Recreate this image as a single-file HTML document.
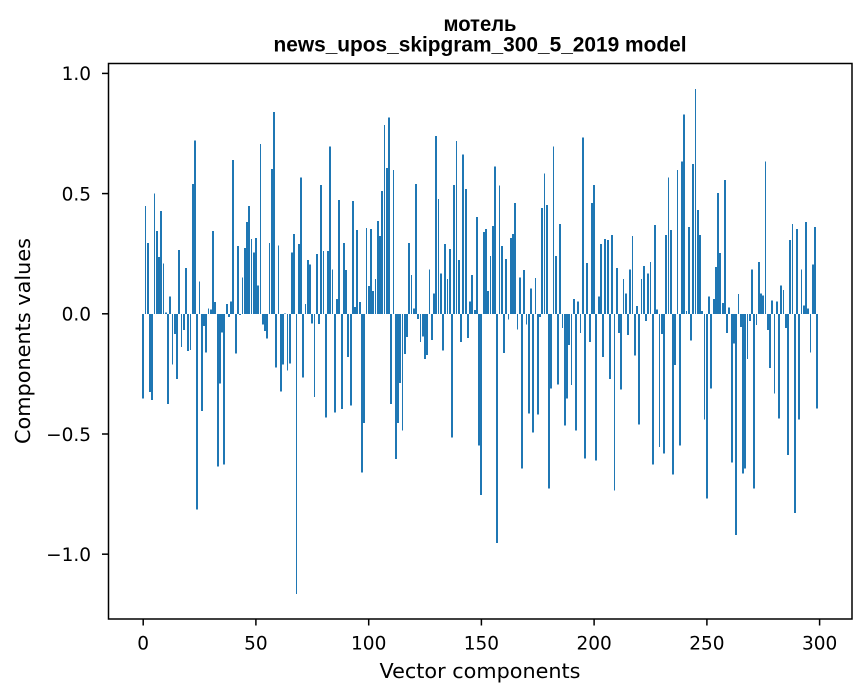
<!DOCTYPE html>
<html><head><meta charset="utf-8"><style>
html,body{margin:0;padding:0;background:#fff;}
svg{display:block;}
.t{font-family:"DejaVu Sans","Liberation Sans",sans-serif;font-size:18.5px;fill:#000;}
.l{font-family:"DejaVu Sans","Liberation Sans",sans-serif;font-size:20.6px;fill:#000;}
.h{font-family:"Liberation Sans","DejaVu Sans",sans-serif;font-size:21px;font-weight:bold;fill:#000;}
</style></head><body>
<svg width="867" height="696" viewBox="0 0 867 696" xmlns="http://www.w3.org/2000/svg">
<rect x="0" y="0" width="867" height="696" fill="#fff"/>
<g transform="translate(0,313.8) scale(1,-240.4)" fill="#1f77b4" shape-rendering="crispEdges">
<rect x="142" y="-0.352" width="2" height="0.352"/>
<rect x="145" y="0" width="1" height="0.449"/>
<rect x="147" y="0" width="2" height="0.294"/>
<rect x="149" y="-0.326" width="2" height="0.326"/>
<rect x="151" y="-0.358" width="2" height="0.358"/>
<rect x="154" y="0" width="1" height="0.5"/>
<rect x="156" y="0" width="2" height="0.345"/>
<rect x="158" y="0" width="2" height="0.237"/>
<rect x="160" y="0" width="2" height="0.428"/>
<rect x="163" y="0" width="1" height="0.21"/>
<rect x="165" y="0" width="2" height="0.006"/>
<rect x="167" y="-0.376" width="2" height="0.376"/>
<rect x="169" y="0" width="2" height="0.073"/>
<rect x="172" y="-0.211" width="1" height="0.211"/>
<rect x="174" y="-0.083" width="2" height="0.083"/>
<rect x="176" y="-0.272" width="2" height="0.272"/>
<rect x="178" y="0" width="2" height="0.266"/>
<rect x="181" y="-0.138" width="1" height="0.138"/>
<rect x="183" y="-0.067" width="2" height="0.067"/>
<rect x="185" y="0" width="2" height="0.19"/>
<rect x="187" y="-0.155" width="2" height="0.155"/>
<rect x="190" y="-0.15" width="1" height="0.15"/>
<rect x="192" y="0" width="2" height="0.54"/>
<rect x="194" y="0" width="2" height="0.72"/>
<rect x="196" y="-0.815" width="2" height="0.815"/>
<rect x="199" y="0" width="1" height="0.135"/>
<rect x="201" y="-0.405" width="2" height="0.405"/>
<rect x="203" y="-0.05" width="2" height="0.05"/>
<rect x="205" y="-0.16" width="2" height="0.16"/>
<rect x="208" y="0" width="1" height="0.023"/>
<rect x="210" y="0" width="2" height="0.017"/>
<rect x="212" y="0" width="2" height="0.345"/>
<rect x="214" y="0" width="2" height="0.049"/>
<rect x="217" y="-0.636" width="2" height="0.636"/>
<rect x="219" y="-0.29" width="2" height="0.29"/>
<rect x="221" y="-0.077" width="2" height="0.077"/>
<rect x="223" y="-0.627" width="2" height="0.627"/>
<rect x="226" y="0" width="2" height="0.04"/>
<rect x="228" y="-0.014" width="2" height="0.014"/>
<rect x="230" y="0" width="2" height="0.052"/>
<rect x="232" y="0" width="2" height="0.64"/>
<rect x="235" y="-0.165" width="2" height="0.165"/>
<rect x="237" y="0" width="2" height="0.282"/>
<rect x="239" y="-0.005" width="2" height="0.005"/>
<rect x="242" y="0" width="1" height="0.152"/>
<rect x="244" y="0" width="2" height="0.273"/>
<rect x="246" y="0" width="2" height="0.382"/>
<rect x="248" y="0" width="2" height="0.449"/>
<rect x="251" y="0" width="1" height="0.311"/>
<rect x="253" y="0" width="2" height="0.256"/>
<rect x="255" y="0" width="2" height="0.316"/>
<rect x="257" y="0" width="2" height="0.118"/>
<rect x="260" y="0" width="1" height="0.707"/>
<rect x="262" y="-0.044" width="2" height="0.044"/>
<rect x="264" y="-0.071" width="2" height="0.071"/>
<rect x="266" y="-0.102" width="2" height="0.102"/>
<rect x="269" y="0" width="1" height="0.294"/>
<rect x="271" y="0" width="2" height="0.602"/>
<rect x="273" y="0" width="2" height="0.84"/>
<rect x="275" y="-0.223" width="2" height="0.223"/>
<rect x="278" y="0" width="1" height="0.285"/>
<rect x="280" y="-0.323" width="2" height="0.323"/>
<rect x="282" y="-0.211" width="2" height="0.211"/>
<rect x="284" y="0" width="2" height="0.002"/>
<rect x="287" y="-0.235" width="1" height="0.235"/>
<rect x="289" y="-0.206" width="2" height="0.206"/>
<rect x="291" y="0" width="2" height="0.256"/>
<rect x="293" y="0" width="2" height="0.332"/>
<rect x="296" y="-1.165" width="1" height="1.165"/>
<rect x="298" y="0" width="2" height="0.29"/>
<rect x="300" y="0" width="2" height="0.566"/>
<rect x="302" y="-0.266" width="2" height="0.266"/>
<rect x="305" y="0" width="1" height="0.04"/>
<rect x="307" y="0" width="2" height="0.223"/>
<rect x="309" y="0" width="2" height="0.206"/>
<rect x="311" y="-0.04" width="2" height="0.04"/>
<rect x="314" y="-0.347" width="1" height="0.347"/>
<rect x="316" y="0" width="2" height="0.249"/>
<rect x="318" y="-0.042" width="2" height="0.042"/>
<rect x="320" y="0" width="2" height="0.536"/>
<rect x="323" y="0" width="1" height="0.261"/>
<rect x="325" y="-0.431" width="2" height="0.431"/>
<rect x="327" y="0" width="2" height="0.261"/>
<rect x="329" y="0" width="2" height="0.695"/>
<rect x="332" y="0" width="1" height="0.185"/>
<rect x="334" y="-0.41" width="2" height="0.41"/>
<rect x="336" y="0" width="2" height="0.061"/>
<rect x="338" y="0" width="2" height="0.473"/>
<rect x="341" y="-0.396" width="2" height="0.396"/>
<rect x="343" y="0" width="2" height="0.294"/>
<rect x="345" y="0" width="2" height="0.182"/>
<rect x="347" y="-0.18" width="2" height="0.18"/>
<rect x="350" y="-0.381" width="2" height="0.381"/>
<rect x="352" y="0" width="2" height="0.469"/>
<rect x="354" y="0" width="2" height="0.029"/>
<rect x="356" y="0" width="2" height="0.349"/>
<rect x="359" y="0" width="2" height="0.049"/>
<rect x="361" y="-0.66" width="2" height="0.66"/>
<rect x="363" y="-0.455" width="2" height="0.455"/>
<rect x="366" y="0" width="1" height="0.357"/>
<rect x="368" y="0" width="2" height="0.115"/>
<rect x="370" y="0" width="2" height="0.352"/>
<rect x="372" y="0" width="2" height="0.094"/>
<rect x="375" y="0" width="1" height="0.144"/>
<rect x="377" y="0" width="2" height="0.385"/>
<rect x="379" y="0" width="2" height="0.323"/>
<rect x="381" y="0" width="2" height="0.511"/>
<rect x="384" y="0" width="1" height="0.786"/>
<rect x="386" y="0" width="2" height="0.607"/>
<rect x="388" y="0" width="2" height="0.816"/>
<rect x="390" y="-0.376" width="2" height="0.376"/>
<rect x="393" y="0" width="1" height="0.599"/>
<rect x="395" y="-0.605" width="2" height="0.605"/>
<rect x="397" y="-0.455" width="2" height="0.455"/>
<rect x="399" y="-0.288" width="2" height="0.288"/>
<rect x="402" y="-0.486" width="1" height="0.486"/>
<rect x="404" y="-0.168" width="2" height="0.168"/>
<rect x="406" y="-0.097" width="2" height="0.097"/>
<rect x="408" y="0" width="2" height="0.294"/>
<rect x="411" y="0" width="1" height="0.161"/>
<rect x="413" y="0" width="2" height="0.023"/>
<rect x="415" y="0" width="2" height="0.54"/>
<rect x="417" y="-0.021" width="2" height="0.021"/>
<rect x="420" y="-0.118" width="1" height="0.118"/>
<rect x="422" y="-0.094" width="2" height="0.094"/>
<rect x="424" y="-0.188" width="2" height="0.188"/>
<rect x="426" y="-0.171" width="2" height="0.171"/>
<rect x="429" y="0" width="1" height="0.185"/>
<rect x="431" y="-0.109" width="2" height="0.109"/>
<rect x="433" y="0" width="2" height="0.085"/>
<rect x="435" y="0" width="2" height="0.74"/>
<rect x="438" y="0" width="1" height="0.478"/>
<rect x="440" y="0" width="2" height="0.168"/>
<rect x="442" y="-0.152" width="2" height="0.152"/>
<rect x="444" y="0" width="2" height="0.29"/>
<rect x="447" y="0" width="1" height="0.144"/>
<rect x="449" y="0" width="2" height="0.269"/>
<rect x="451" y="-0.514" width="2" height="0.514"/>
<rect x="453" y="0" width="2" height="0.536"/>
<rect x="456" y="0" width="1" height="0.719"/>
<rect x="458" y="0" width="2" height="0.223"/>
<rect x="460" y="-0.118" width="2" height="0.118"/>
<rect x="462" y="0" width="2" height="0.662"/>
<rect x="465" y="0" width="2" height="0.519"/>
<rect x="467" y="-0.1" width="2" height="0.1"/>
<rect x="469" y="0" width="2" height="0.052"/>
<rect x="471" y="0" width="2" height="0.161"/>
<rect x="474" y="0" width="2" height="0.015"/>
<rect x="476" y="0" width="2" height="0.402"/>
<rect x="478" y="-0.548" width="2" height="0.548"/>
<rect x="480" y="-0.753" width="2" height="0.753"/>
<rect x="483" y="0" width="2" height="0.34"/>
<rect x="485" y="0" width="2" height="0.352"/>
<rect x="487" y="0" width="2" height="0.094"/>
<rect x="490" y="0" width="1" height="0.24"/>
<rect x="492" y="0" width="2" height="0.366"/>
<rect x="494" y="0" width="2" height="0.612"/>
<rect x="496" y="-0.953" width="2" height="0.953"/>
<rect x="499" y="0" width="1" height="0.533"/>
<rect x="501" y="0" width="2" height="0.282"/>
<rect x="503" y="-0.164" width="2" height="0.164"/>
<rect x="505" y="0" width="2" height="0.228"/>
<rect x="508" y="-0.023" width="1" height="0.023"/>
<rect x="510" y="0" width="2" height="0.316"/>
<rect x="512" y="0" width="2" height="0.332"/>
<rect x="514" y="0" width="2" height="0.461"/>
<rect x="517" y="-0.065" width="1" height="0.065"/>
<rect x="519" y="0" width="2" height="0.152"/>
<rect x="521" y="-0.643" width="2" height="0.643"/>
<rect x="523" y="0" width="2" height="0.182"/>
<rect x="526" y="-0.044" width="1" height="0.044"/>
<rect x="528" y="-0.414" width="2" height="0.414"/>
<rect x="530" y="0" width="2" height="0.106"/>
<rect x="532" y="-0.493" width="2" height="0.493"/>
<rect x="535" y="0" width="1" height="0.149"/>
<rect x="537" y="-0.419" width="2" height="0.419"/>
<rect x="539" y="-0.014" width="2" height="0.014"/>
<rect x="541" y="0" width="2" height="0.44"/>
<rect x="544" y="0" width="1" height="0.583"/>
<rect x="546" y="0" width="2" height="0.452"/>
<rect x="548" y="-0.727" width="2" height="0.727"/>
<rect x="550" y="-0.31" width="2" height="0.31"/>
<rect x="553" y="0" width="1" height="0.695"/>
<rect x="555" y="0" width="2" height="0.24"/>
<rect x="557" y="-0.294" width="2" height="0.294"/>
<rect x="559" y="0" width="2" height="0.373"/>
<rect x="562" y="-0.059" width="1" height="0.059"/>
<rect x="564" y="-0.464" width="2" height="0.464"/>
<rect x="566" y="-0.352" width="2" height="0.352"/>
<rect x="568" y="-0.13" width="2" height="0.13"/>
<rect x="571" y="-0.297" width="1" height="0.297"/>
<rect x="573" y="0" width="2" height="0.061"/>
<rect x="575" y="-0.486" width="2" height="0.486"/>
<rect x="577" y="0" width="2" height="0.052"/>
<rect x="580" y="-0.08" width="1" height="0.08"/>
<rect x="582" y="0" width="2" height="0.733"/>
<rect x="584" y="-0.602" width="2" height="0.602"/>
<rect x="586" y="0" width="2" height="0.211"/>
<rect x="589" y="-0.118" width="2" height="0.118"/>
<rect x="591" y="0" width="2" height="0.461"/>
<rect x="593" y="0" width="2" height="0.536"/>
<rect x="595" y="-0.61" width="2" height="0.61"/>
<rect x="598" y="0" width="2" height="0.073"/>
<rect x="600" y="0" width="2" height="0.29"/>
<rect x="602" y="-0.18" width="2" height="0.18"/>
<rect x="604" y="0" width="2" height="0.311"/>
<rect x="607" y="0" width="2" height="0.307"/>
<rect x="609" y="-0.272" width="2" height="0.272"/>
<rect x="611" y="0" width="2" height="0.328"/>
<rect x="614" y="-0.736" width="1" height="0.736"/>
<rect x="616" y="0" width="2" height="0.19"/>
<rect x="618" y="-0.08" width="2" height="0.08"/>
<rect x="620" y="-0.314" width="2" height="0.314"/>
<rect x="623" y="0" width="1" height="0.144"/>
<rect x="625" y="0" width="2" height="0.085"/>
<rect x="627" y="-0.088" width="2" height="0.088"/>
<rect x="629" y="0" width="2" height="0.185"/>
<rect x="632" y="0" width="1" height="0.323"/>
<rect x="634" y="-0.173" width="2" height="0.173"/>
<rect x="636" y="0" width="2" height="0.032"/>
<rect x="638" y="-0.46" width="2" height="0.46"/>
<rect x="641" y="0" width="1" height="0.144"/>
<rect x="643" y="0" width="2" height="0.199"/>
<rect x="645" y="-0.03" width="2" height="0.03"/>
<rect x="647" y="0" width="2" height="0.168"/>
<rect x="650" y="0" width="1" height="0.215"/>
<rect x="652" y="-0.627" width="2" height="0.627"/>
<rect x="654" y="0" width="2" height="0.369"/>
<rect x="656" y="0" width="2" height="0.018"/>
<rect x="659" y="-0.555" width="1" height="0.555"/>
<rect x="661" y="-0.083" width="2" height="0.083"/>
<rect x="663" y="-0.581" width="2" height="0.581"/>
<rect x="665" y="0" width="2" height="0.328"/>
<rect x="668" y="0" width="1" height="0.566"/>
<rect x="670" y="0" width="2" height="0.349"/>
<rect x="672" y="-0.669" width="2" height="0.669"/>
<rect x="674" y="-0.214" width="2" height="0.214"/>
<rect x="677" y="0" width="1" height="0.599"/>
<rect x="679" y="-0.548" width="2" height="0.548"/>
<rect x="681" y="0" width="2" height="0.633"/>
<rect x="683" y="0" width="2" height="0.829"/>
<rect x="686" y="0" width="1" height="0.011"/>
<rect x="688" y="0" width="2" height="0.361"/>
<rect x="690" y="-0.111" width="2" height="0.111"/>
<rect x="692" y="0" width="2" height="0.624"/>
<rect x="695" y="0" width="1" height="0.936"/>
<rect x="697" y="0" width="2" height="0.432"/>
<rect x="699" y="0" width="2" height="0.328"/>
<rect x="701" y="0" width="2" height="0.011"/>
<rect x="704" y="-0.439" width="1" height="0.439"/>
<rect x="706" y="-0.769" width="2" height="0.769"/>
<rect x="708" y="0" width="2" height="0.073"/>
<rect x="710" y="-0.31" width="2" height="0.31"/>
<rect x="713" y="0" width="2" height="0.061"/>
<rect x="715" y="0" width="2" height="0.194"/>
<rect x="717" y="0" width="2" height="0.502"/>
<rect x="719" y="0" width="2" height="0.252"/>
<rect x="722" y="0" width="2" height="0.044"/>
<rect x="724" y="0" width="2" height="0.557"/>
<rect x="726" y="-0.08" width="2" height="0.08"/>
<rect x="728" y="0" width="2" height="0.027"/>
<rect x="731" y="-0.619" width="2" height="0.619"/>
<rect x="733" y="-0.123" width="2" height="0.123"/>
<rect x="735" y="-0.92" width="2" height="0.92"/>
<rect x="738" y="0" width="1" height="0.082"/>
<rect x="740" y="-0.055" width="2" height="0.055"/>
<rect x="742" y="-0.665" width="2" height="0.665"/>
<rect x="744" y="-0.643" width="2" height="0.643"/>
<rect x="747" y="-0.188" width="1" height="0.188"/>
<rect x="749" y="-0.03" width="2" height="0.03"/>
<rect x="751" y="0" width="2" height="0.185"/>
<rect x="753" y="-0.727" width="2" height="0.727"/>
<rect x="756" y="-0.047" width="1" height="0.047"/>
<rect x="758" y="0" width="2" height="0.215"/>
<rect x="760" y="0" width="2" height="0.085"/>
<rect x="762" y="0" width="2" height="0.077"/>
<rect x="765" y="0" width="1" height="0.633"/>
<rect x="767" y="-0.068" width="2" height="0.068"/>
<rect x="769" y="-0.226" width="2" height="0.226"/>
<rect x="771" y="0" width="2" height="0.056"/>
<rect x="774" y="-0.332" width="1" height="0.332"/>
<rect x="776" y="0" width="2" height="0.052"/>
<rect x="778" y="-0.435" width="2" height="0.435"/>
<rect x="780" y="0" width="2" height="0.118"/>
<rect x="783" y="0" width="1" height="0.099"/>
<rect x="785" y="-0.059" width="2" height="0.059"/>
<rect x="787" y="-0.587" width="2" height="0.587"/>
<rect x="789" y="0" width="2" height="0.307"/>
<rect x="792" y="0" width="1" height="0.373"/>
<rect x="794" y="-0.829" width="2" height="0.829"/>
<rect x="796" y="0" width="2" height="0.352"/>
<rect x="798" y="-0.44" width="2" height="0.44"/>
<rect x="801" y="0" width="1" height="0.185"/>
<rect x="803" y="0" width="2" height="0.035"/>
<rect x="805" y="0" width="2" height="0.382"/>
<rect x="807" y="0" width="2" height="0.023"/>
<rect x="810" y="-0.161" width="1" height="0.161"/>
<rect x="812" y="0" width="2" height="0.206"/>
<rect x="814" y="0" width="2" height="0.361"/>
<rect x="816" y="-0.393" width="2" height="0.393"/>
</g>
<rect x="108.5" y="63.5" width="743.5" height="555.5" fill="none" stroke="#000" stroke-width="1.5"/>
<g stroke="#000" stroke-width="1.5">
<line x1="143.2" y1="619" x2="143.2" y2="625.5"/>
<line x1="255.9" y1="619" x2="255.9" y2="625.5"/>
<line x1="368.7" y1="619" x2="368.7" y2="625.5"/>
<line x1="481.4" y1="619" x2="481.4" y2="625.5"/>
<line x1="594.1" y1="619" x2="594.1" y2="625.5"/>
<line x1="706.9" y1="619" x2="706.9" y2="625.5"/>
<line x1="819.6" y1="619" x2="819.6" y2="625.5"/>
<line x1="102" y1="73.4" x2="108.5" y2="73.4"/>
<line x1="102" y1="193.6" x2="108.5" y2="193.6"/>
<line x1="102" y1="313.8" x2="108.5" y2="313.8"/>
<line x1="102" y1="434" x2="108.5" y2="434"/>
<line x1="102" y1="554.2" x2="108.5" y2="554.2"/>
</g>
<g class="t" text-anchor="middle">
<text x="143.2" y="649.5">0</text>
<text x="255.9" y="649.5">50</text>
<text x="368.7" y="649.5">100</text>
<text x="481.4" y="649.5">150</text>
<text x="594.1" y="649.5">200</text>
<text x="706.9" y="649.5">250</text>
<text x="819.6" y="649.5">300</text>
</g>
<g class="t" text-anchor="end">
<text x="91" y="80.2">1.0</text>
<text x="91" y="200.4">0.5</text>
<text x="91" y="320.6">0.0</text>
<text x="91" y="440.8">−0.5</text>
<text x="91" y="561">−1.0</text>
</g>
<text class="l" x="480" y="678" text-anchor="middle" textLength="201" lengthAdjust="spacingAndGlyphs">Vector components</text>
<text class="l" transform="translate(30,341) rotate(-90)" x="0" y="0" text-anchor="middle" textLength="206" lengthAdjust="spacingAndGlyphs">Components values</text>
<text class="h" x="480" y="31" text-anchor="middle" textLength="73" lengthAdjust="spacingAndGlyphs">мотель</text>
<text class="h" x="480" y="51.7" text-anchor="middle" textLength="413" lengthAdjust="spacingAndGlyphs">news_upos_skipgram_300_5_2019 model</text>
</svg>
</body></html>
